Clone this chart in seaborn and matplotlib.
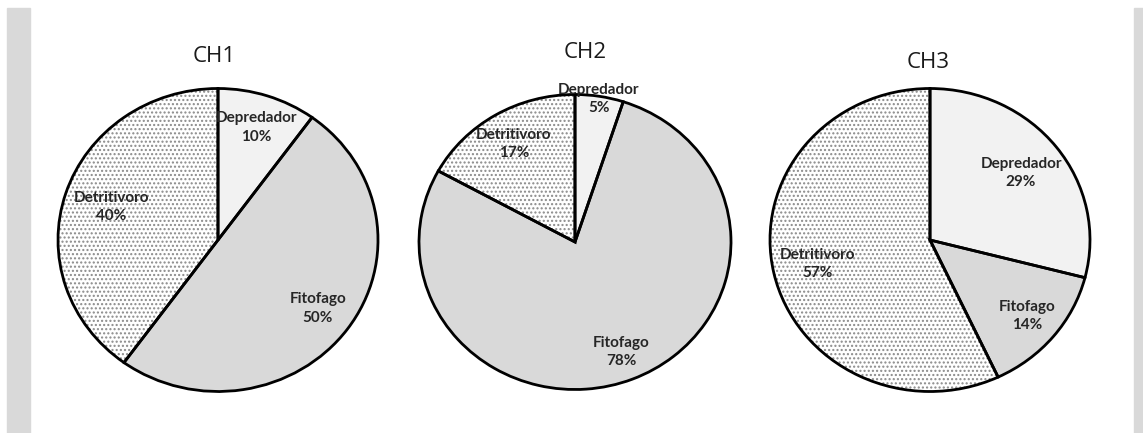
import numpy as np
import matplotlib
matplotlib.use("Agg")
import matplotlib.pyplot as plt
import matplotlib.patches as mpatches
import seaborn as sns

# data
categories = ['Depredador', 'Fitofago', 'Detritivoro']
titles = ['CH1', 'CH2', 'CH3']
ch1_pct = [10, 50, 40]
ch2_pct = [5, 78, 17]
ch3_pct = [29, 14, 57]

# styling
slice_colors = ['#f2f2f2', '#d9d9d9', '#ffffff']
slice_hatch = [None, None, '....']
label_dist = [[0.78, 0.77, 0.70],
              [0.98, 0.80, 0.77],
              [0.72, 0.79, 0.72]]

sns.set_theme(style='white')
plt.rcParams['font.family'] = ['Lato', 'DejaVu Sans']

W, H = 1143, 433
fig = plt.figure(figsize=(W / 100, H / 100), dpi=100)
fig.patch.set_facecolor('white')

# grey side bands of the page
fig.patches.append(mpatches.Rectangle((7 / W, 0), 23 / W, (H - 8) / H,
                                      transform=fig.transFigure, color='#d9d9d9', zorder=0))
fig.patches.append(mpatches.Rectangle((1134 / W, 0), 9 / W, (H - 8) / H,
                                      transform=fig.transFigure, color='#d9d9d9', zorder=0))

# pie boxes in pixels: center x, center y (from top), width, height
boxes = [(218, 240, 320, 303), (575, 242, 312, 295), (930, 240, 320, 303)]
title_pos = [(214, 57), (585, 52), (928, 62)]

for i, values in enumerate([ch1_pct, ch2_pct, ch3_pct]):
    cx, cy, bw, bh = boxes[i]
    ax = fig.add_axes([(cx - bw / 2) / W, (H - cy - bh / 2) / H, bw / W, bh / H])

    # fill layer (hatch in grey dots)
    wedges, _ = ax.pie(values, startangle=90, counterclock=False, radius=1,
                       colors=slice_colors,
                       wedgeprops=dict(edgecolor='#8a8a8a', linewidth=0))
    for w, h in zip(wedges, slice_hatch):
        if h:
            w.set_hatch(h)
    # outline layer
    outl, _ = ax.pie(values, startangle=90, counterclock=False, radius=1,
                     colors=['none'] * 3,
                     wedgeprops=dict(edgecolor='black', linewidth=2, fill=False))
    for w in outl:
        w.set_clip_on(False)

    for w, cat, v, d in zip(wedges, categories, values, label_dist[i]):
        ang = np.deg2rad((w.theta1 + w.theta2) / 2)
        ax.text(np.cos(ang) * d, np.sin(ang) * d, f'{cat}\n{v}%',
                ha='center', va='center', fontsize=11, fontweight='bold',
                color='#262626', linespacing=1.4)

    ax.set_aspect('auto')
    ax.set_xlim(-1, 1)
    ax.set_ylim(-1, 1)
    ax.axis('off')

    tx, ty = title_pos[i]
    fig.text(tx / W, (H - ty) / H, titles[i], ha='center', va='center',
             fontsize=16, color='#1a1a1a', family=['Open Sans', 'DejaVu Sans'])

fig.savefig('out.png', dpi=100, facecolor='white')
